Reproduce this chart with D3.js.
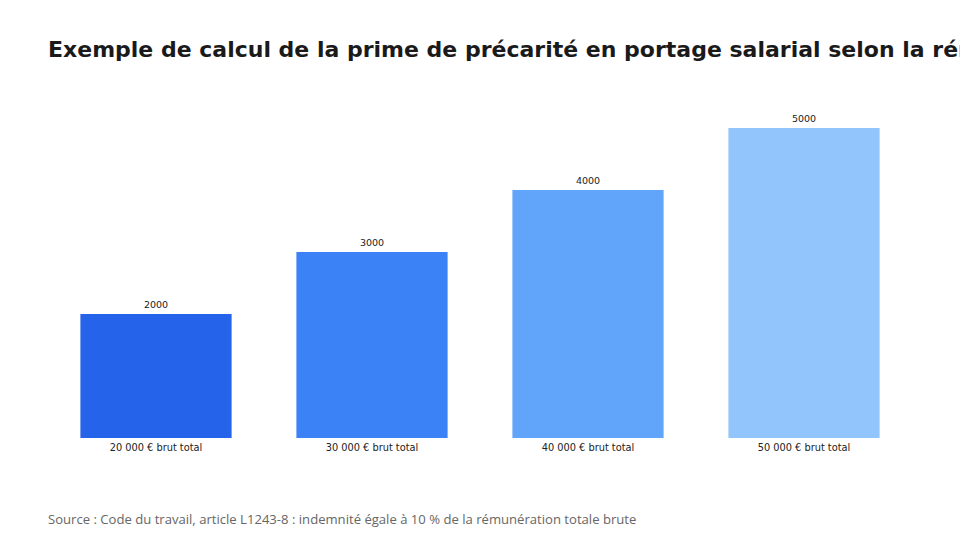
<!DOCTYPE html>
<html>
<head>
<meta charset="utf-8">
<script src="https://cdn.jsdelivr.net/npm/d3@7"></script>
<style>
  body { margin: 0; background: #fff; overflow: hidden; }
  svg { display: block; }
</style>
</head>
<body>
<div id="chart"></div>
<script>
var categories = ["20 000 € brut total", "30 000 € brut total", "40 000 € brut total", "50 000 € brut total"];
var primes = [2000, 3000, 4000, 5000];
var bar_colors = ["#2563eb", "#3b82f6", "#60a5fa", "#93c5fd"];
var title_text = "Exemple de calcul de la prime de précarité en portage salarial selon la rémunération brute";
var source_text = "Source : Code du travail, article L1243-8 : indemnité égale à 10 % de la rémunération totale brute";

const width = 960;
const height = 540;

var svg = d3.select("#chart").append("svg")
    .attr("width", width)
    .attr("height", height);

// Title (runs past the right edge, like the original)
svg.append("text")
    .attr("x", 48)
    .attr("y", 57)
    .attr("font-family", "DejaVu Sans")
    .attr("font-size", 22)
    .attr("font-weight", "bold")
    .attr("fill", "#1a1a1a")
    .text(title_text);

var x = d3.scaleBand()
    .domain(categories)
    .range([48, 912])
    .paddingInner(0.3)
    .paddingOuter(0.15);

var y = d3.scaleLinear()
    .domain([0, 5000])
    .range([438, 128]);

var bars = svg.append("g");

bars.selectAll("rect")
    .data(primes)
    .enter().append("rect")
    .attr("x", (d, i) => x(categories[i]))
    .attr("y", (d) => y(d))
    .attr("width", x.bandwidth())
    .attr("height", (d) => y(0) - y(d))
    .attr("fill", (d, i) => bar_colors[i]);

// value labels
bars.selectAll(".value")
    .data(primes)
    .enter().append("text")
    .attr("class", "value")
    .attr("x", (d, i) => x(categories[i]) + x.bandwidth()/2)
    .attr("y", (d) => y(d) - 6)
    .attr("text-anchor", "middle")
    .attr("font-family", "DejaVu Sans")
    .attr("font-size", 9.5)
    .attr("fill", "#222")
    .text((d) => d);

// category axis, no line
var xAxis = svg.append("g")
    .attr("transform", "translate(0," + y(0) + ")")
    .call(d3.axisBottom(x).tickSize(0).tickPadding(6));
xAxis.select(".domain").remove();
xAxis.selectAll("text")
    .attr("font-family", "DejaVu Sans")
    .attr("font-size", 9.8)
    .attr("fill", "#222");

// Source
svg.append("text")
    .attr("x", 48)
    .attr("y", 524)
    .attr("font-family", "Open Sans")
    .attr("font-size", 13.1)
    .attr("fill", "#666")
    .text(source_text);
</script>
</body>
</html>
